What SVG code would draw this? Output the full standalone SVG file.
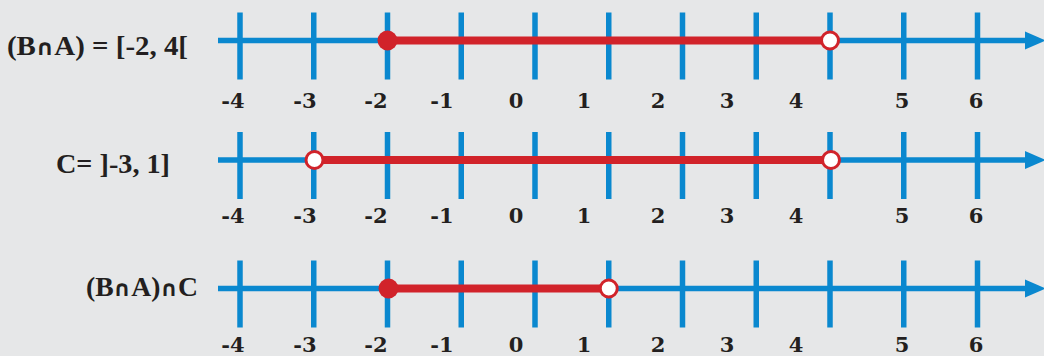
<svg xmlns="http://www.w3.org/2000/svg" width="1044" height="356" viewBox="0 0 1044 356">
<style>
.axis{stroke:#0a88cf;stroke-width:5.5;fill:none}
.tick{stroke:#0a88cf;stroke-width:5.5}
.arrow{fill:#0a88cf}
.seg{stroke:#d1232a;stroke-width:8;fill:none}
.closed{fill:#d1232a}
.open{fill:#ffffff;stroke:#d1232a;stroke-width:3}
.lbl{font-family:"Liberation Serif","DejaVu Serif",serif;font-weight:bold;font-size:28px;fill:#231f20}
.cap{font-family:"DejaVu Sans",sans-serif;font-weight:bold;font-size:22px}
.num{font-family:"DejaVu Serif","Liberation Serif",serif;font-weight:bold;font-size:21px;fill:#231f20;text-anchor:middle}
</style>
<defs>
<g id="ticks">
<line class="tick" x1="240" y1="-28" x2="240" y2="39"/>
<line class="tick" x1="313.75" y1="-28" x2="313.75" y2="39"/>
<line class="tick" x1="387.5" y1="-28" x2="387.5" y2="39"/>
<line class="tick" x1="461.25" y1="-28" x2="461.25" y2="39"/>
<line class="tick" x1="535" y1="-28" x2="535" y2="39"/>
<line class="tick" x1="608.75" y1="-28" x2="608.75" y2="39"/>
<line class="tick" x1="682.5" y1="-28" x2="682.5" y2="39"/>
<line class="tick" x1="756.25" y1="-28" x2="756.25" y2="39"/>
<line class="tick" x1="830" y1="-28" x2="830" y2="39"/>
<line class="tick" x1="903.75" y1="-28" x2="903.75" y2="39"/>
<line class="tick" x1="977.5" y1="-28" x2="977.5" y2="39"/>
</g>
<g id="axis">
<line class="axis" x1="218" y1="0" x2="1030" y2="0"/>
<polygon class="arrow" points="1025,-9 1046,0 1025,9"/>
</g>
<g id="nums">
<text class="num" x="233" y="0">-4</text>
<text class="num" x="305" y="0">-3</text>
<text class="num" x="376" y="0">-2</text>
<text class="num" x="442" y="0">-1</text>
<text class="num" x="516" y="0">0</text>
<text class="num" x="584" y="0">1</text>
<text class="num" x="658" y="0">2</text>
<text class="num" x="727" y="0">3</text>
<text class="num" x="796" y="0">4</text>
<text class="num" x="902" y="0">5</text>
<text class="num" x="976" y="0">6</text>
</g>
</defs>
<rect x="0" y="0" width="1044" height="356" fill="#e6e7e8"/>

<g id="line1">
<text class="lbl" x="7" y="55" textLength="181" lengthAdjust="spacingAndGlyphs">(B<tspan class="cap">∩</tspan>A) = [-2, 4[</text>
<use href="#axis" transform="translate(0,40.5)"/>
<use href="#ticks" transform="translate(0,40.5)"/>
<use href="#nums" transform="translate(0,108)"/>
<line class="seg" x1="387.5" y1="40.5" x2="830" y2="40.5"/>
<circle class="closed" cx="387.5" cy="40.5" r="10"/>
<circle class="open" cx="830" cy="40.5" r="8.5"/>
</g>

<g id="line2">
<text class="lbl" x="56" y="173" textLength="114" lengthAdjust="spacingAndGlyphs">C= ]-3, 1]</text>
<use href="#axis" transform="translate(0,160)"/>
<use href="#ticks" transform="translate(0,160)"/>
<use href="#nums" transform="translate(0,223)"/>
<line class="seg" x1="313.75" y1="160" x2="830" y2="160"/>
<circle class="open" cx="314.5" cy="160" r="8.5"/>
<circle class="open" cx="831" cy="160" r="8.5"/>
</g>

<g id="line3">
<text class="lbl" x="86" y="296" textLength="112" lengthAdjust="spacingAndGlyphs">(B<tspan class="cap">∩</tspan>A)<tspan class="cap">∩</tspan>C</text>
<use href="#axis" transform="translate(0,288.5)"/>
<use href="#ticks" transform="translate(0,288.5)"/>
<use href="#nums" transform="translate(0,352)"/>
<line class="seg" x1="388.5" y1="288.5" x2="608.75" y2="288.5"/>
<circle class="closed" cx="388.5" cy="288.5" r="10"/>
<circle class="open" cx="608.75" cy="288.5" r="8.5"/>
</g>
</svg>
